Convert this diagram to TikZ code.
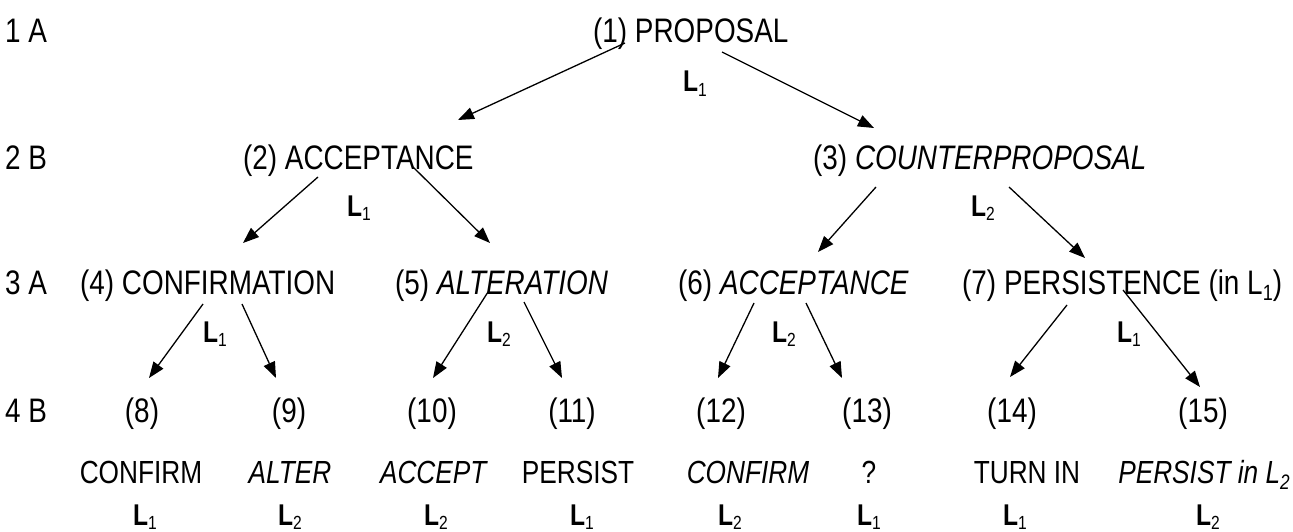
\documentclass[tikz,border=0pt]{standalone}
\usepackage{fontspec}
\setmainfont[FakeStretch=0.82]{Liberation Sans}
\usetikzlibrary{arrows.meta,calc}
\newcommand\Lsub[2]{#1\raisebox{-0.15em}{\fontsize{19}{19}\selectfont\mdseries #2}}
\begin{document}
\begin{tikzpicture}[x=1pt,y=-1pt,
  lab/.style={anchor=base west,inner sep=0pt,font=\fontsize{34}{36}\selectfont},
  paren/.style={anchor=base,inner sep=0pt,font=\fontsize{34}{36}\selectfont},
  word/.style={anchor=base,inner sep=0pt,font=\fontsize{32}{34}\selectfont},
  lang/.style={anchor=base west,inner sep=0pt,font=\fontsize{30}{31}\selectfont\bfseries},
  langc/.style={anchor=base,inner sep=0pt,font=\fontsize{30}{31}\selectfont\bfseries},
  arr/.style={-{Triangle[length=16pt,width=12pt]},line width=1.3pt}]
\useasboundingbox (0,0) rectangle (1293,532);
% row labels
\node[lab] (r1) at (5,43) {1 A};
\node[lab] (r2) at (5,169) {2 B};
\node[lab] (r3) at (5,294) {3 A};
\node[lab] (r4) at (5,422) {4 B};
% level 1
\node[lab] (n1) at (593,43) {(1) PROPOSAL};
\node[lang] (l1) at (683,92) {\Lsub{L}{1}};
% level 2
\node[lab] (n2) at (243,169) {(2) ACCEPTANCE};
\node[lab] (n3) at (813,169) {(3) \textit{COUNTERPROPOSAL}};
\node[lang] (l2) at (347,216) {\Lsub{L}{1}};
\node[lang] (l3) at (971,216) {\Lsub{L}{2}};
% level 3
\node[lab] (n4) at (80,294) {(4) CONFIRMATION};
\node[lab] (n5) at (395,294) {(5) \textit{ALTERATION}};
\node[lab] (n6) at (678,294) {(6) \textit{ACCEPTANCE}};
\node[lab] (n7) at (962,294) {(7) PERSISTENCE (in L\raisebox{-0.2em}{\fontsize{22}{22}\selectfont 1})};
\node[lang] (l4) at (203,342) {\Lsub{L}{1}};
\node[lang] (l5) at (487,342) {\Lsub{L}{2}};
\node[lang] (l6) at (772,342) {\Lsub{L}{2}};
\node[lang] (l7) at (1117,342) {\Lsub{L}{1}};
% level 4
\node[paren] (p8) at (142,422) {(8)};
\node[paren] (p9) at (289,422) {(9)};
\node[paren] (p10) at (432,422) {(10)};
\node[paren] (p11) at (572,422) {(11)};
\node[paren] (p12) at (721,422) {(12)};
\node[paren] (p13) at (867,422) {(13)};
\node[paren] (p14) at (1012,422) {(14)};
\node[paren] (p15) at (1203,422) {(15)};
\node[word] (w8) at (141,483) {CONFIRM};
\node[word] (w9) at (290,483) {\textit{ALTER}};
\node[word] (w10) at (434,483) {\textit{ACCEPT}};
\node[word] (w11) at (578,483) {PERSIST};
\node[word] (w12) at (748,483) {\textit{CONFIRM}};
\node[word] (w13) at (869,483) {?};
\node[word] (w14) at (1027,483) {TURN IN};
\node[word] (w15) at (1204,483) {\textit{PERSIST in L\raisebox{-0.2em}{\fontsize{21}{21}\selectfont 2}}};
\node[langc] (g8) at (145,525) {\Lsub{L}{1}};
\node[langc] (g9) at (290,525) {\Lsub{L}{2}};
\node[langc] (g10) at (436,525) {\Lsub{L}{2}};
\node[langc] (g11) at (582,525) {\Lsub{L}{1}};
\node[langc] (g12) at (730,525) {\Lsub{L}{2}};
\node[langc] (g13) at (869,525) {\Lsub{L}{1}};
\node[langc] (g14) at (1015,525) {\Lsub{L}{1}};
\node[langc] (g15) at (1208,525) {\Lsub{L}{2}};
% arrows
\draw[arr] ($(n1.base west)+(32,0)$) -- ($(n2.base west)+(215,-49)$);
\draw[arr] ($(n1.base west)+(129,9)$) -- ($(n3.base west)+(61,-41)$);
\draw[arr] ($(n2.base west)+(75,8)$) -- ($(n4.base west)+(163,-51)$);
\draw[arr] ($(n2.base west)+(170,-2)$) -- ($(n5.base west)+(95,-51)$);
\draw[arr] ($(n3.base west)+(63,18)$) -- ($(n6.base west)+(140,-42)$);
\draw[arr] ($(n3.base west)+(196,18)$) -- ($(n7.base west)+(123,-36)$);
\draw[arr] ($(n4.base west)+(123,10)$) -- ($(p8.base)+(7,-44)$);
\draw[arr] ($(n4.base west)+(162,10)$) -- ($(p9.base)+(-13,-44)$);
\draw[arr] ($(n5.base west)+(93,-2)$) -- ($(p10.base)+(1,-44)$);
\draw[arr] ($(n5.base west)+(129,8)$) -- ($(p11.base)+(-10,-44)$);
\draw[arr] ($(n6.base west)+(76,9)$) -- ($(p12.base)+(-3,-44)$);
\draw[arr] ($(n6.base west)+(128,9)$) -- ($(p13.base)+(-25,-44)$);
\draw[arr] ($(n7.base west)+(105,11)$) -- ($(p14.base)+(-2,-45)$);
\draw[arr] ($(n7.base west)+(161,-4)$) -- ($(p15.base)+(-3,-35)$);
\end{tikzpicture}
\end{document}
